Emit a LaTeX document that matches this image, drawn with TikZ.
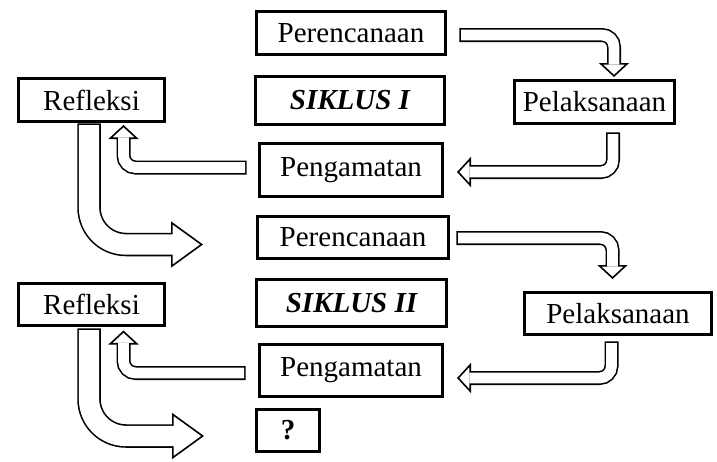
\documentclass[tikz,border=0pt]{standalone}
\usepackage{fontspec}
\setmainfont{Liberation Serif}
\usetikzlibrary{arrows.meta}

\tikzset{
  stage/.style={draw, line width=2.8pt, inner sep=0pt, font=\fontsize{29}{34}\selectfont},
  cyc/.style={stage, font=\fontsize{29}{34}\selectfont\bfseries\itshape},
  flow/.style={draw=white, line width=10.8pt, rounded corners=12pt, shorten >=12.3pt,
    preaction={draw=black, line width=14pt, shorten >=0pt, shorten <=-1.6pt,
      -{Triangle[width=30pt,length=14pt,line width=1.6pt,fill=white]}}},
  bigflow/.style={draw=white, line width=20.3pt, rounded corners=37pt, shorten >=29.8pt,
    preaction={draw=black, line width=23.5pt, shorten >=0pt, shorten <=-1.6pt,
      -{Triangle[width=46pt,length=32pt,line width=1.6pt,fill=white]}}},
}

\begin{document}
\begin{tikzpicture}[x=1pt,y=-1pt]
  \useasboundingbox (0,0) rectangle (717,461);

  % siklus I
  \node[stage, minimum width=189.2pt, minimum height=43.2pt] (per1) at (351,33) {Perencanaan};
  \node[cyc, minimum width=189.2pt, minimum height=48.2pt] (sik1) at (350,100.5) {SIKLUS I};
  \node[stage, minimum width=146.2pt, minimum height=43.2pt] (ref1) at (91.5,100) {Refleksi};
  \node[stage, minimum width=160.2pt, minimum height=43.2pt] (pel1) at (594.5,102) {Pelaksanaan};
  \node[stage, minimum width=183.2pt, minimum height=53.2pt] (pen1) at (351,170) {Pengamatan};

  % siklus II
  \node[stage, minimum width=191.2pt, minimum height=42.2pt] (per2) at (353,237.5) {Perencanaan};
  \node[cyc, minimum width=190.2pt, minimum height=47.2pt] (sik2) at (351.5,303) {SIKLUS II};
  \node[stage, minimum width=146.2pt, minimum height=42.2pt] (ref2) at (91.5,304.5) {Refleksi};
  \node[stage, minimum width=187.2pt, minimum height=42.2pt] (pel2) at (618,313.5) {Pelaksanaan};
  \node[stage, minimum width=183.2pt, minimum height=52.2pt] (pen2) at (351,370.5) {Pengamatan};
  \node[stage, minimum width=63.2pt, minimum height=42.2pt, font=\fontsize{29}{34}\selectfont\bfseries] (nxt) at (288,430.5) {?};

  % arrow ends
  \coordinate (a1s) at (461,35);    \coordinate (a1e) at (614,77);
  \coordinate (b1s) at (613,134);   \coordinate (b1e) at (457,172);
  \coordinate (c1s) at (245,167.5); \coordinate (c1e) at (123.5,125);
  \coordinate (d1s) at (89,125);    \coordinate (d1e) at (203,244.5);
  \coordinate (a2s) at (458,238);   \coordinate (a2e) at (612.5,279);
  \coordinate (b2s) at (611.5,343); \coordinate (b2e) at (457,378);
  \coordinate (c2s) at (244,373);   \coordinate (c2e) at (123.5,330.5);
  \coordinate (d2s) at (89,330);    \coordinate (d2e) at (204,436);

  \draw[flow] (a1s) -| (a1e);
  \draw[flow] (b1s) |- (b1e);
  \draw[flow] (c1s) -| (c1e);
  \draw[bigflow] (d1s) |- (d1e);
  \draw[flow] (a2s) -| (a2e);
  \draw[flow] (b2s) |- (b2e);
  \draw[flow] (c2s) -| (c2e);
  \draw[bigflow] (d2s) |- (d2e);
\end{tikzpicture}
\end{document}
